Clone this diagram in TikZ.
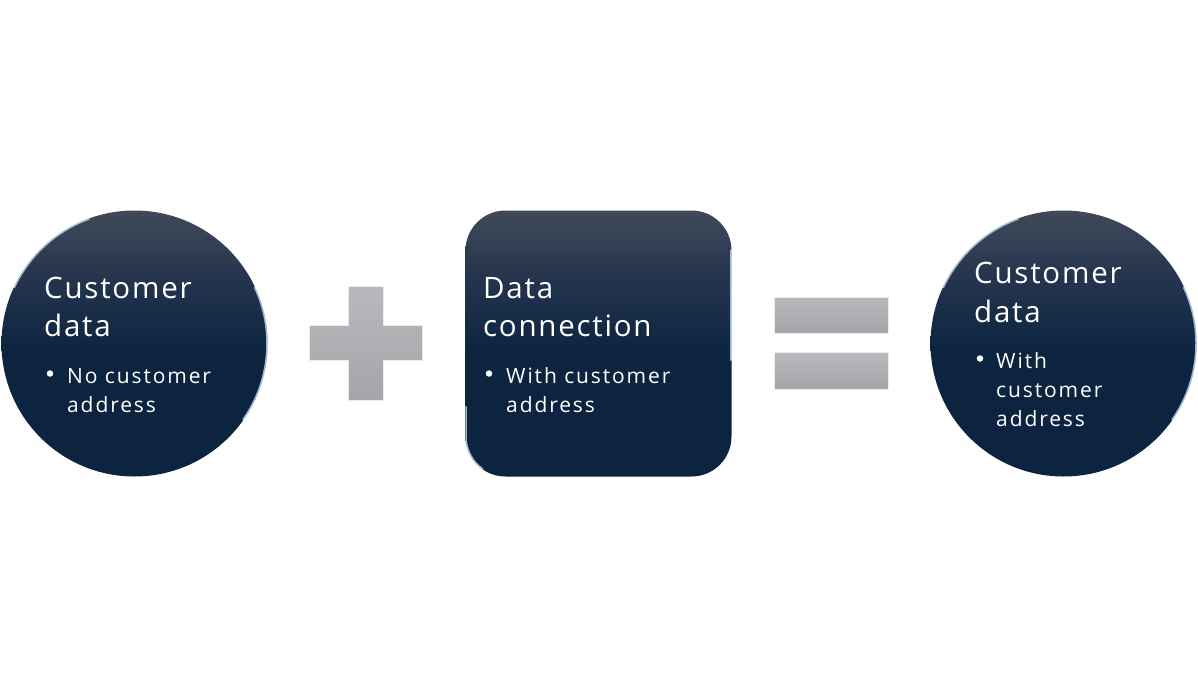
\documentclass[tikz,border=0pt]{standalone}
\usepackage{fontspec}
\setmainfont{Open Sans}
\newfontfamily\ttlfont[LetterSpace=6]{Open Sans}
\newfontfamily\txtfont[LetterSpace=9]{Open Sans}
\definecolor{navytop}{RGB}{64,73,89}
\definecolor{navymid}{RGB}{36,52,78}
\definecolor{navybot}{RGB}{12,36,64}
\definecolor{barlight}{RGB}{184,185,188}
\definecolor{bardark}{RGB}{164,165,169}
\definecolor{edgehi}{RGB}{200,220,240}
\pgfdeclareverticalshading{navyshade}{100bp}{color(0bp)=(navybot); color(48bp)=(navybot); color(62bp)=(navymid); color(75bp)=(navytop); color(100bp)=(navytop)}
\tikzset{
  disc/.style={circle, minimum size=266pt, inner sep=0pt, shading=navyshade},
  squarebox/.style={rounded corners=40pt, minimum size=266pt, inner sep=0pt, shading=navyshade},
  bar/.style={top color=barlight, bottom color=bardark, draw=white!85!gray, line width=0.6pt},
  ttl/.style={text=white, anchor=base west, inner sep=0pt, font=\ttlfont\fontsize{29.5}{36}\selectfont},
  txt/.style={text=white, anchor=base west, inner sep=0pt, font=\txtfont\fontsize{21}{28}\selectfont},
  dot/.style={circle, fill=white, inner sep=0pt, minimum size=6.5pt},
  hilite/.style={edgehi, line width=1.5pt, opacity=0.8, line cap=round}
}
\begin{document}
\begin{tikzpicture}[x=1pt,y=-1pt]
\useasboundingbox (0,0) rectangle (1198,687);
% left circle
\node[disc] (c1) at (134.5,343.5) {};
\draw[hilite] (c1.center) ++(205:132.5) arc[start angle=205, end angle=250, radius=132.5];
\draw[hilite] (c1.center) ++(-25:132.5) arc[start angle=-25, end angle=35, radius=132.5];
\node[ttl] (c1t1) at (44,298) {Customer};
\node[ttl] (c1t2) at (44,336) {data};
\node[dot] (c1b) at (50,373.5) {};
\node[txt] (c1l1) at (67,383) {No customer};
\node[txt] (c1l2) at (67,412) {address};
% plus
\path[bar] (348,286) -- (383,286) -- (383,325) -- (422,325) -- (422,360) -- (383,360) -- (383,400) -- (348,400) -- (348,360) -- (309,360) -- (309,325) -- (348,325) -- cycle;
\node[inner sep=0pt, minimum size=0pt] (plus) at (365.5,343) {};
% middle rounded square
\node[squarebox] (sq) at (598.5,343.5) {};
\draw[hilite] ([shift={(0.7,-70)}]sq.south west) -- ([shift={(0.7,-40)}]sq.south west) arc[start angle=180, end angle=235, radius=39.3pt];
\draw[hilite] ([shift={(-0.7,40)}]sq.north east) -- ([shift={(-0.7,150)}]sq.north east);
\node[ttl] (sqt1) at (483,298) {Data};
\node[ttl] (sqt2) at (483,336) {connection};
\node[dot] (sqb) at (489,373.5) {};
\node[txt] (sql1) at (506,383) {With customer};
\node[txt] (sql2) at (506,412) {address};
% equals
\path[bar] (774,297) rectangle (888,333);
\path[bar] (774,352) rectangle (888,389);
\node[inner sep=0pt, minimum size=0pt] (eq) at (831,343) {};
% right circle
\node[disc] (c2) at (1063.5,343.5) {};
\draw[hilite] (c2.center) ++(205:132.5) arc[start angle=205, end angle=250, radius=132.5];
\draw[hilite] (c2.center) ++(-25:132.5) arc[start angle=-25, end angle=35, radius=132.5];
\node[ttl] (c2t1) at (974,283) {Customer};
\node[ttl] (c2t2) at (974,322) {data};
\node[dot] (c2b) at (980,358.5) {};
\node[txt] (c2l1) at (996,368) {With};
\node[txt] (c2l2) at (996,397) {customer};
\node[txt] (c2l3) at (996,426) {address};
\end{tikzpicture}
\end{document}
